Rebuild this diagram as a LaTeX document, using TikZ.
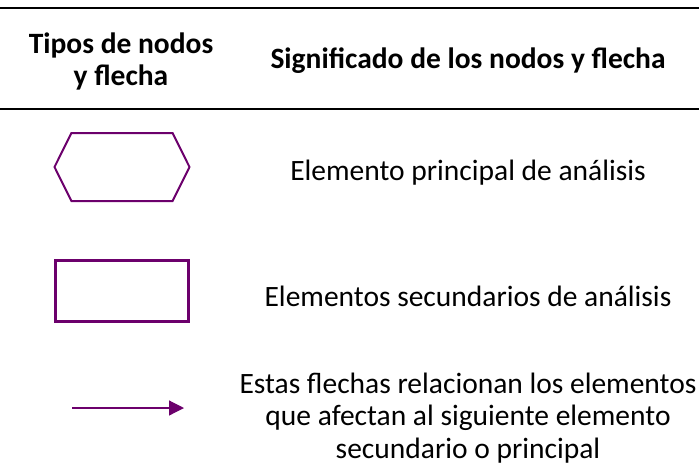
\documentclass[tikz,border=0pt]{standalone}
\usepackage{fontspec}
\setmainfont{Carlito}
\usepackage{tikz}
\usetikzlibrary{positioning,shapes.symbols,arrows.meta}

\definecolor{morado}{RGB}{108,0,108}

\tikzset{
  encabezado/.style={font=\fontsize{29.5}{32}\selectfont\bfseries,align=center},
  texto/.style={font=\fontsize{29.5}{32.8}\selectfont,align=center},
  principal/.style={shape=signal,signal to=west and east,signal pointer angle=127,
    draw=morado,line width=2pt,minimum width=135pt,minimum height=68pt,inner sep=0pt},
  secundario/.style={rectangle,draw=morado,line width=2.5pt,minimum width=133pt,
    minimum height=61pt,inner sep=0pt},
  flecha/.style={draw=morado,line width=1.2pt,-{Triangle[length=15pt,width=15pt]}},
  regla/.style={line width=2pt}
}

\begin{document}
\begin{tikzpicture}[x=1pt,y=-1pt,node distance=124pt,on grid]
   \useasboundingbox (0,0) rectangle (699,467);
   % cabecera
   \coordinate (r1a) at (0,8);
   \coordinate (r1b) at (699,8);
   \coordinate (r2a) at (0,109);
   \coordinate (r2b) at (699,109);
   \draw[regla] (r1a) -- (r1b);
   \draw[regla] (r2a) -- (r2b);
   \node[encabezado] (tipos) at (121,61) {Tipos de nodos\\y flecha};
   \node[encabezado] (signif) at (468,61) {Significado de los nodos y flecha};
   % nodos
   \node[principal] (hex) at (122,167) {};
   \node[secundario] (rect) [below=124pt of hex] {};
   \coordinate (fA) at (72,408);
   \coordinate (fB) at (184,408);
   \draw[flecha] (fA) -- (fB);
   % significados
   \node[texto] (t1) at (468,173) {Elemento principal de análisis};
   \node[texto] (t2) at (468,296) {Elementos secundarios de análisis};
   \node[texto] (t3) at (468,418) {Estas flechas relacionan los elementos\\que afectan al siguiente elemento\\secundario o principal};
\end{tikzpicture}
\end{document}
